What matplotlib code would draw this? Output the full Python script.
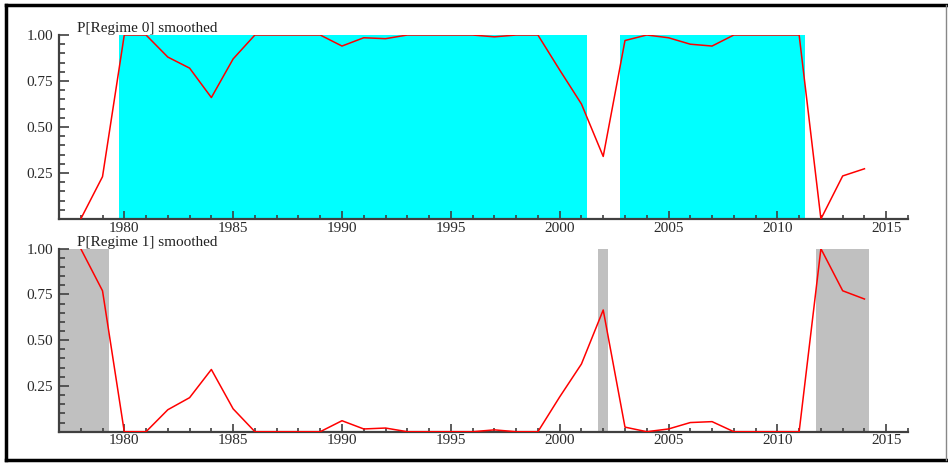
import numpy as np
import matplotlib
matplotlib.use("Agg")
import matplotlib.pyplot as plt
from matplotlib.lines import Line2D
from matplotlib.ticker import MultipleLocator

years = list(range(1978, 2015))

# smoothed regime probabilities
p_regime0 = [0.00, 0.23, 1.00, 1.00, 0.88, 0.82, 0.66, 0.87, 1.00, 1.00,
             1.00, 1.00, 0.94, 0.985, 0.98, 1.00, 1.00, 1.00, 1.00, 0.99,
             1.00, 1.00, 0.81, 0.625, 0.34, 0.97, 1.00, 0.985, 0.95, 0.94,
             1.00, 1.00, 1.00, 1.00, 0.00, 0.234, 0.273]
p_regime1 = [1.00, 0.77, 0.00, 0.00, 0.12, 0.186, 0.34, 0.125, 0.00, 0.00,
             0.00, 0.00, 0.06, 0.015, 0.02, 0.00, 0.00, 0.00, 0.00, 0.01,
             0.00, 0.00, 0.19, 0.37, 0.665, 0.025, 0.00, 0.015, 0.05, 0.055,
             0.00, 0.00, 0.00, 0.00, 1.00, 0.77, 0.725]

# shaded periods (start, end)
regime0_spans = [(1979.78, 2001.25), (2002.79, 2011.25)]
regime1_spans = [(1977.05, 1979.28), (2001.78, 2002.2), (2011.79, 2014.2)]

titles = ["P[Regime 0] smoothed", "P[Regime 1] smoothed"]

plt.rcParams['font.family'] = ['Liberation Serif', 'DejaVu Serif']
plt.rcParams['font.size'] = 11

fig = plt.figure(figsize=(9.48, 4.63), dpi=100)
ax0 = fig.add_axes([0.0622, 0.527, 0.8956, 0.3974])
ax1 = fig.add_axes([0.0622, 0.0676, 0.8956, 0.3953])

panels = [(ax0, p_regime0, regime0_spans, "#00FFFF"),
          (ax1, p_regime1, regime1_spans, "#C0C0C0")]

for i, (ax, vals, spans, col) in enumerate(panels):
    for a, b in spans:
        ax.axvspan(a, b, ymin=0, ymax=1, color=col, lw=0, zorder=1)
    ax.plot(years, vals, color="#FF0000", lw=1.1, zorder=3)
    ax.set_xlim(1977, 2016)
    ax.set_ylim(0, 1.0)
    ax.set_yticks([0.25, 0.5, 0.75, 1.0])
    ax.set_yticklabels(["0.25", "0.50", "0.75", "1.00"])
    ax.yaxis.set_minor_locator(MultipleLocator(0.05))
    ax.set_xticks([1980, 1985, 1990, 1995, 2000, 2005, 2010, 2015])
    ax.xaxis.set_minor_locator(MultipleLocator(1))
    for s in ["top", "right"]:
        ax.spines[s].set_visible(False)
    for s in ["left", "bottom"]:
        ax.spines[s].set_color("#404040")
        ax.spines[s].set_linewidth(1.6)
    ax.tick_params(axis="both", which="both", direction="in", color="#404040",
                   labelcolor="#2a2a2a", width=1.2)
    ax.tick_params(axis="y", which="major", length=7, pad=4)
    ax.tick_params(axis="y", which="minor", length=4)
    ax.tick_params(axis="x", which="major", length=6, pad=2)
    ax.tick_params(axis="x", which="minor", length=3)
    ax.set_facecolor("white")
    ax.text(0.021, 1.0, titles[i], transform=ax.transAxes, ha="left",
            va="bottom", fontsize=11, color="#222222")

# outer frame
fig.add_artist(Line2D([0.006, 0.998], [0.989, 0.989], color="black", lw=2.5,
                      transform=fig.transFigure))
fig.add_artist(Line2D([0.006, 0.998], [0.007, 0.007], color="black", lw=2.5,
                      transform=fig.transFigure))
fig.add_artist(Line2D([0.0065, 0.0065], [0.007, 0.989], color="black", lw=2.5,
                      transform=fig.transFigure))
fig.add_artist(Line2D([0.998, 0.998], [0.007, 0.989], color="#888888", lw=1,
                      transform=fig.transFigure))

fig.savefig("out.png", dpi=100)
